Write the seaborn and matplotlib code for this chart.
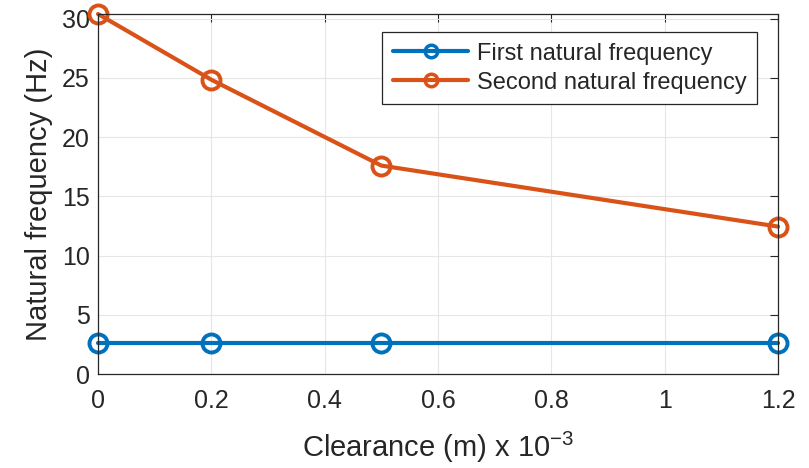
import matplotlib
matplotlib.use("Agg")
import matplotlib.pyplot as plt
import seaborn as sns
import pandas as pd

clearance = [0, 0.2, 0.5, 1.2]
first_freq = [2.6, 2.6, 2.6, 2.6]
second_freq = [30.4, 24.85, 17.6, 12.45]
series_names = ["First natural frequency", "Second natural frequency"]
x_ticks = [0, 0.2, 0.4, 0.6, 0.8, 1, 1.2]
x_tick_labels = ["0", "0.2", "0.4", "0.6", "0.8", "1", "1.2"]
y_ticks = [0, 5, 10, 15, 20, 25, 30]

df = pd.DataFrame({
    "x": clearance * 2,
    "y": first_freq + second_freq,
    "series": [series_names[0]] * 4 + [series_names[1]] * 4,
})

sns.set_theme(style="whitegrid")
plt.rcParams["font.family"] = ["Liberation Sans", "DejaVu Sans"]
plt.rcParams["mathtext.fontset"] = "custom"
plt.rcParams["mathtext.rm"] = "Liberation Sans"

fig = plt.figure(figsize=(8.09, 4.68), dpi=100)
ax = fig.add_axes([98 / 809, 1 - 374 / 468, 680 / 809, 360 / 468])

palette = {series_names[0]: "#0072BD", series_names[1]: "#D95319"}
sns.lineplot(data=df, x="x", y="y", hue="series", palette=palette, ax=ax,
             marker="o", markersize=13, markerfacecolor="none",
             markeredgewidth=2.8, linewidth=3, legend=True)
for line in ax.lines:
    line.set_markeredgecolor(line.get_color())
    line.set_clip_on(False)

ax.set_xlim(0, 1.2)
ax.set_ylim(0, 30.4)
ax.set_xticks(x_ticks)
ax.set_xticklabels(x_tick_labels)
ax.set_yticks(y_ticks)
ax.tick_params(axis="both", labelsize=18, colors="#262626", direction="in",
               length=6, width=0.8, top=True, right=True)
ax.tick_params(axis="x", pad=11)
ax.tick_params(axis="y", pad=6)
ax.grid(True, color="#e6e6e6", linewidth=0.8)
for s in ax.spines.values():
    s.set_color("#262626")
    s.set_linewidth(0.9)
    s.set_visible(True)
ax.set_facecolor("white")

ax.set_xlabel("Clearance (m) x 10$^{-3}$", fontsize=21, color="#262626", labelpad=12)
ax.set_ylabel("Natural frequency (Hz)", fontsize=21, color="#262626", labelpad=6)

leg = ax.legend(loc="upper right", bbox_to_anchor=(0.969, 0.95), borderaxespad=0,
                fontsize=17, frameon=True, fancybox=False, edgecolor="#262626",
                framealpha=1, handlelength=3.2, handletextpad=0.35,
                borderpad=0.45, labelspacing=0.3)
leg.get_frame().set_linewidth(0.9)
for h in leg.get_lines():
    h.set_markerfacecolor("none")
    h.set_markeredgecolor(h.get_color())
    h.set_markersize(9)
    h.set_markeredgewidth(2.5)

fig.savefig("out.png", dpi=100, facecolor="white")
